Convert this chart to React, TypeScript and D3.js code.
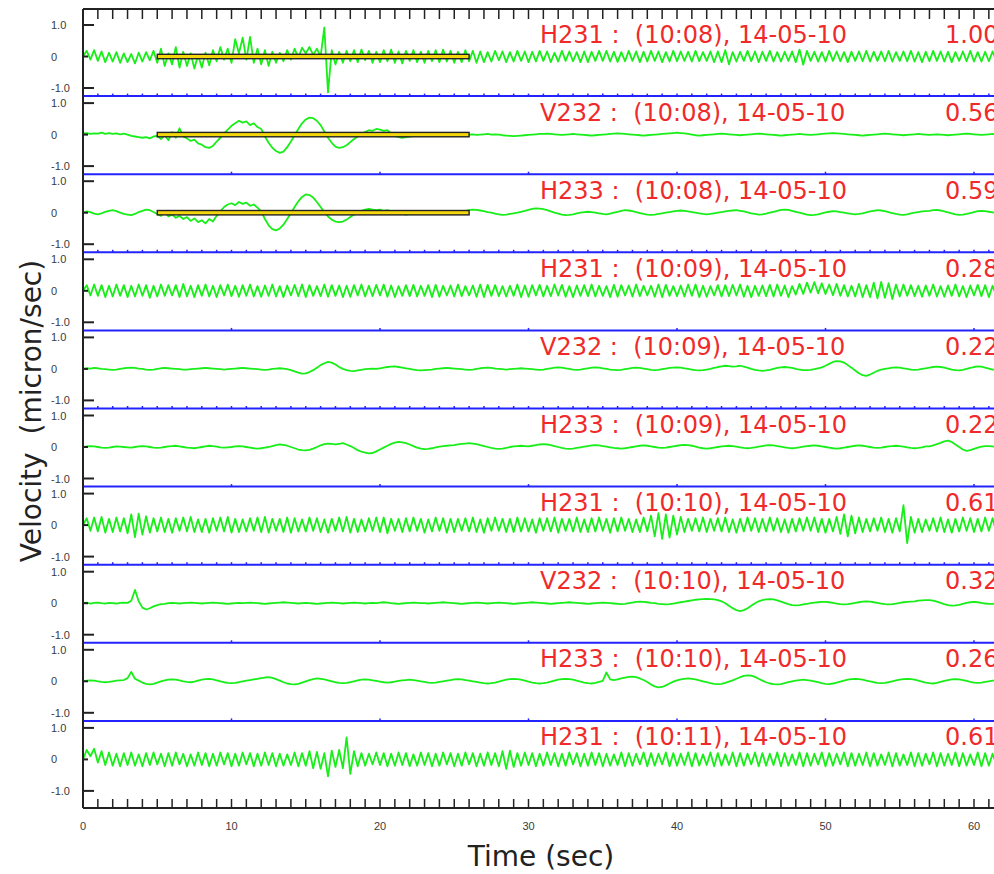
import React from "react";
import * as d3 from "d3";

// ---------- data ----------
const DT = 0.25; // seconds per sample
const channelNames = ["H231", "V232", "H233", "H231", "V232", "H233", "H231", "V232", "H233", "H231"];
const recordTimes = ["10:08", "10:08", "10:08", "10:09", "10:09", "10:09", "10:10", "10:10", "10:10", "10:11"];
const recordDate = "14-05-10";
const peakValues = ["1.00", "0.56", "0.59", "0.28", "0.22", "0.22", "0.61", "0.32", "0.26", "0.61"];
const xTickValues = [0, 10, 20, 30, 40, 50, 60];
const yTickValues = [1, 0, -1];
const yTickLabels = ["1.0", "0", "-1.0"];
const windowPanels = [0, 1, 2];
const windowStart = 5;
const windowEnd = 26;
const separatorTickStep = [1, 10, 1, 10, 1, 10, 1, 10, 10];

// velocity samples, hundredths of micron/sec, 4 per second
const trace1 = [
  0, 18, -10, 20, -14, 16, -18, 12, -16, 14, -20, 10, -18, 8, -22, 12, -16, 14, -12, 18,
  -20, 25, -30, 10, -25, 30, -35, 15, -30, 10, -38, 5, -35, 12, -28, 20, -15, 30, -10, 25,
  -20, 55, 10, 60, -10, 62, -20, 25, -25, 20, -30, 15, -20, 12, -15, 20, -10, 25, -5, 28,
  10, 30, 5, 25, 0, 92, -114, 20, -25, 15, -20, 18, -15, 20, -18, 22, -12, 18, -20, 15,
  -18, 20, -15, 22, -20, 16, -22, 18, -14, 20, -18, 15, -20, 18, -15, 20, -18, 22, -16, 18,
  -20, 15, -18, 20, -15, 18, -20, 16, -18, 14, -16, 18, -12, 16, -18, 14, -16, 18, -14, 16,
  -18, 15, -16, 18, -14, 16, -18, 12, -16, 18, -14, 16, -15, 14, -18, 16, -18, 15, -14, 18,
  -14, 18, -16, 15, -17, 14, -15, 18, -14, 16, -18, 15, -16, 18, -14, 16, -18, 14, -16, 18,
  -15, 16, -14, 15, -16, 18, -15, 14, -14, 16, -18, 16, -18, 20, -25, 14, -16, 15, -14, 18,
  -15, 16, -18, 15, -14, 18, -16, 14, -16, 15, -14, 16, -18, 22, -26, 18, -14, 15, -16, 14,
  -16, 18, -14, 16, -15, 14, -18, 15, -14, 16, -15, 18, -16, 15, -14, 16, -15, 18, -16, 14,
  -14, 16, -15, 18, -16, 14, -18, 15, -15, 18, -14, 16, -16, 15, -18, 14, -14, 16, -15, 18,
  -16, 14, -16, 15, -15, 16, -14, 16,
];
const trace2 = [
  3, 5, 2, 4, 3, 6, 2, 5, 2, 4, 1, 3, 0, -4, -6, -8, -10, -8, -12, -6,
  -4, -14, -2, -18, 8, -10, 20, -6, -12, -20, -16, -28, -32, -40, -42, -36, -22, -10, 4, 16,
  28, 36, 44, 38, 42, 30, 36, 24, 18, -6, -26, -42, -52, -58, -54, -40, -22, -2, 18, 36,
  48, 54, 52, 44, 30, 10, -10, -26, -38, -42, -40, -34, -24, -14, -6, 2, 8, 14, 12, 18,
  16, 12, 14, 4, -4, -8, -10, -8, -6, -4, -2, 0, 2, 0, -2, 0, 1, -1, 2, 0,
  -1, 1, 0, 2, 0, 1, -1, 0, 1, 2, 0, 1, 0, -2, -3, -4, -5, -4, -3, -2,
  -1, 0, 1, 2, 2, 3, 2, 1, 0, -1, 0, 1, 2, 1, 0, -1, -2, -3, -2, -1,
  0, 1, 2, 3, 4, 3, 2, 1, 0, -1, -2, -3, -2, -1, 0, 1, 2, 3, 4, 5,
  6, 5, 4, 2, 0, -2, -3, -2, -1, 0, 1, 2, 3, 2, 1, 0, -1, -2, -1, 0,
  1, 2, 3, 2, 1, 0, -1, -2, -3, -2, -1, 0, 1, 2, 1, 0, -1, 0, 1, 2,
  3, 4, 5, 4, 3, 2, 1, 0, -1, -2, -3, -2, -1, 0, 1, 2, 3, 2, 1, 0,
  -1, -2, -1, 0, 1, 2, 1, 0, -1, 0, 1, 0, -1, -2, -1, 0, 1, 2, 3, 2,
  1, 0, -1, 0, 1, 2, 1, 0,
];
const trace3 = [
  0, 4, 2, -3, -5, -2, 3, 6, 8, 5, 0, -4, -6, -8, -4, 2, 6, 10, 8, 2,
  -4, -10, 4, -12, -6, -16, -10, -20, -14, -26, -18, -30, -24, -34, -20, -28, -10, 4, 18, 26,
  30, 24, 34, 28, 32, 22, 26, 16, 4, -20, -40, -52, -56, -50, -38, -20, -2, 18, 36, 50,
  58, 56, 48, 34, 18, 2, -12, -22, -28, -30, -28, -22, -14, -6, 0, 6, 10, 12, 10, 8,
  10, 6, 8, 4, 2, -2, -4, -6, -4, -2, 0, -2, 0, 2, -1, 1, 2, 0, -2, 0,
  1, 3, 4, 6, 8, 10, 9, 7, 5, 2, 0, -3, -5, -7, -6, -4, -2, 0, 3, 6,
  9, 12, 14, 13, 11, 8, 4, 0, -3, -6, -8, -7, -5, -2, 0, 2, 3, 2, 0, -2,
  -4, -5, -3, 0, 3, 6, 8, 7, 5, 2, -1, -4, -6, -7, -6, -4, -2, 0, 2, 4,
  6, 7, 6, 4, 2, 0, -2, -4, -5, -4, -2, 0, 2, 4, 6, 7, 8, 6, 4, 1,
  -2, -4, -6, -5, -3, 0, 3, 6, 9, 10, 9, 6, 3, 0, -3, -6, -8, -7, -5, -2,
  1, 3, 5, 4, 2, 0, -2, -4, -5, -4, -2, 1, 4, 6, 8, 7, 5, 2, -1, -4,
  -6, -7, -5, -2, 0, 2, 4, 5, 6, 8, 9, 7, 4, 1, -2, -5, -7, -6, -4, -1,
  2, 5, 6, 5, 3, 1, -1, -2,
];
const trace4 = [
  0, 18, -15, 20, -16, 18, -20, 16, -18, 20, -16, 18, -20, 16, -18, 20, -16, 18, -22, 16,
  -18, 20, -16, 18, -15, 18, -20, 22, -18, 16, -20, 18, -16, 20, -18, 16, -20, 18, -15, 20,
  -17, 16, -19, 18, -16, 20, -18, 15, -19, 17, -16, 20, -18, 15, -20, 17, -15, 19, -17, 20,
  -20, 18, -16, 15, -17, 20, -19, 18, -16, 17, -20, 16, -19, 18, -15, 20, -18, 16, -17, 19,
  -15, 20, -19, 17, -20, 15, -16, 18, -17, 19, -18, 16, -16, 18, -20, 19, -19, 16, -15, 17,
  -18, 20, -17, 15, -15, 17, -19, 20, -20, 19, -16, 18, -17, 15, -18, 16, -16, 20, -20, 17,
  -19, 18, -15, 19, -18, 16, -17, 20, -15, 19, -19, 15, -20, 17, -16, 18, -17, 20, -18, 16,
  -16, 15, -20, 19, -19, 18, -15, 17, -18, 20, -17, 16, -15, 16, -19, 20, -20, 19, -16, 15,
  -17, 17, -18, 20, -16, 20, -20, 16, -19, 15, -15, 18, -18, 18, -17, 19, -15, 20, -19, 16,
  -20, 16, -16, 17, -17, 19, -18, 20, -16, 17, -20, 15, -12, 22, -10, 26, -6, 28, -8, 24,
  -10, 20, -14, 22, -16, 18, -18, 16, -18, 22, -20, 18, -20, 26, -24, 28, -22, 24, -26, 20,
  -18, 20, -16, 18, -17, 16, -19, 17, -16, 20, -18, 15, -19, 17, -16, 20, -18, 15, -20, 17,
  -15, 19, -17, 18, -20, 16, -16, 19,
];
const trace5 = [
  0, 2, 1, 3, 2, 0, -1, -2, -3, -2, 0, 2, 3, 4, 3, 1, 0, -2, -3, -2,
  0, 2, 3, 2, 1, 0, -1, -2, -2, -1, 0, 1, 2, 3, 2, 1, 0, -1, -2, -1,
  0, 1, 2, 3, 2, 1, 0, -1, -2, -3, -2, 0, 1, 2, 1, -1, -4, -8, -12, -15,
  -14, -10, -4, 4, 12, 18, 22, 20, 14, 6, 0, -4, -6, -7, -5, -3, -1, 0, 1, 0,
  2, 4, 6, 7, 8, 6, 4, 2, 0, -2, -4, -5, -4, -3, -2, 0, 1, 2, 3, 2,
  1, 0, -1, -2, -3, -2, 0, 2, 3, 4, 3, 1, 0, -1, -2, -1, 0, 1, 2, 1,
  0, -1, -2, -3, -2, 0, 2, 4, 5, 4, 2, 0, -2, -3, -2, 0, 2, 4, 5, 4,
  2, 0, -2, -3, -4, -3, -1, 1, 3, 4, 3, 1, -1, -3, -4, -3, -1, 1, 3, 4,
  5, 4, 2, 0, -2, -4, -5, -4, -2, 0, 3, 6, 8, 10, 9, 7, 8, 10, 7, 4,
  0, -3, -5, -6, -5, -3, 0, 3, 5, 6, 5, 3, 0, -2, -4, -4, -3, -1, 2, 5,
  10, 16, 22, 25, 24, 20, 12, 4, -5, -14, -20, -22, -18, -12, -6, -2, 0, 2, 4, 5,
  4, 2, 0, -2, -3, -2, 0, 2, 4, 6, 7, 6, 4, 1, -2, -4, -5, -3, 0, 3,
  6, 8, 7, 4, 1, -2, -3, -2,
];
const trace6 = [
  0, 2, 3, 2, 0, -2, -3, -2, 0, 2, 1, 0, -1, -2, 0, 2, 3, 2, 0, -2,
  -3, -2, 0, 2, 3, 4, 2, 0, -2, -3, -4, -2, 0, 2, 4, 3, 1, -1, -2, -1,
  0, 2, 3, 2, 0, -2, -4, -5, -4, -2, 0, 3, 6, 8, 7, 4, 0, -4, -8, -10,
  -11, -9, -5, 0, 5, 9, 11, 10, 8, 10, 12, 8, 3, -3, -10, -15, -18, -20, -19, -14,
  -8, -2, 4, 10, 14, 16, 15, 12, 8, 3, -2, -5, -7, -6, -4, -1, 1, 3, 4, 5,
  6, 8, 10, 11, 12, 11, 9, 6, 3, 0, -3, -5, -6, -5, -3, 0, 2, 3, 4, 3,
  2, 4, 6, 8, 9, 8, 6, 3, 0, -3, -5, -6, -5, -3, -1, 1, 3, 5, 6, 5,
  3, 1, -1, -3, -4, -5, -4, -2, 0, 2, 4, 5, 4, 2, 0, -2, -3, -2, 0, 2,
  4, 6, 7, 6, 4, 1, -2, -4, -5, -4, -2, 0, 2, 3, 4, 3, 1, -1, -3, -4,
  -3, -1, 1, 3, 5, 6, 5, 3, 1, -1, -3, -4, -3, -1, 1, 3, 4, 5, 4, 2,
  0, -2, -4, -5, -4, -2, 0, 2, 4, 5, 4, 2, 0, -2, -3, -2, 0, 2, 3, 4,
  3, 1, -1, -3, -4, -3, -1, 2, 2, 5, 9, 13, 18, 20, 16, 8, 0, -8, -12, -10,
  -6, -2, 1, 3, 3, 2, 0, -1,
];
const trace7 = [
  0, 22, -18, 24, -20, 26, -24, 20, -22, 24, -20, 22, -26, 34, -38, 36, -30, 28, -24, 22,
  -20, 24, -22, 20, -24, 22, -18, 24, -20, 26, -22, 18, -22, 20, -24, 22, -18, 24, -20, 26,
  -24, 20, -22, 18, -20, 22, -18, 24, -22, 26, -24, 20, -18, 20, -22, 24, -24, 22, -20, 18,
  -20, 24, -18, 22, -22, 18, -24, 20, -18, 24, -20, 26, -24, 20, -22, 18, -20, 22, -18, 24,
  -22, 24, -26, 20, -18, 20, -22, 22, -20, 24, -18, 20, -24, 18, -20, 24, -18, 22, -24, 20,
  -22, 20, -18, 22, -20, 24, -22, 18, -24, 22, -18, 24, -18, 20, -22, 20, -22, 24, -20, 22,
  -20, 18, -24, 22, -18, 22, -20, 24, -24, 20, -18, 20, -20, 24, -22, 18, -22, 22, -20, 24,
  -18, 20, -24, 22, -20, 24, -18, 20, -22, 18, -22, 24, -20, 30, -36, 38, -44, 34, -40, 30,
  -30, 26, -22, 20, -18, 22, -20, 24, -22, 20, -18, 22, -20, 24, -22, 18, -24, 20, -20, 24,
  -18, 22, -22, 20, -20, 24, -18, 22, -22, 18, -24, 20, -20, 22, -18, 24, -18, 24, -22, 20,
  -24, 20, -20, 26, -28, 34, -36, 30, -26, 24, -22, 20, -20, 22, -18, 24, -22, 20, -24, 22,
  -20, 63, -57, 26, -24, 20, -22, 18, -18, 22, -20, 24, -22, 18, -24, 20, -20, 24, -18, 22,
  -22, 20, -20, 24, -18, 22, -22, 20,
];
const trace8 = [
  0, 2, -1, 1, 2, 0, -1, 1, 0, -1, 1, 2, 1, 8, 42, 6, -14, -20, -16, -10,
  -6, -3, -2, 0, 1, 0, -1, 0, 1, 2, 1, 0, -1, 0, 1, 2, 1, 0, -1, -2,
  -1, 0, 1, 0, 1, 2, 1, 0, -1, -2, -1, 0, 1, 2, 3, 2, 1, 0, -1, 0,
  1, 0, -1, -2, -1, 0, 1, 2, 1, 0, -1, 0, 1, 2, 1, 0, -1, 0, 1, 0,
  2, 3, 2, 0, -1, -2, -1, 0, 1, 2, 1, 0, 0, -1, 0, 1, 2, 3, 2, 1,
  0, -1, -2, -1, 0, 1, 2, 1, 0, -1, 0, 1, 2, 1, 0, -1, -2, -1, 0, 1,
  2, 3, 2, 1, 0, -1, -2, -1, 0, 1, 2, 3, 2, 1, 0, -1, -2, -1, 0, 1,
  2, 1, 0, -1, -2, -3, -2, 0, 2, 4, 5, 4, 3, 1, 0, -2, -3, -4, -3, -1,
  1, 3, 5, 7, 9, 11, 12, 13, 14, 13, 12, 10, 6, 0, -8, -16, -22, -25, -22, -16,
  -8, 0, 6, 10, 12, 13, 12, 9, 5, 1, -3, -6, -7, -6, -4, -2, 0, 2, 3, 4,
  4, 3, 1, -1, -3, -4, -3, -1, 1, 3, 5, 6, 5, 3, 1, -1, -3, -4, -3, -1,
  1, 3, 4, 5, 6, 8, 9, 10, 10, 8, 5, 1, -3, -6, -8, -7, -5, -2, 1, 3,
  4, 3, 1, -1, -2, -2, -1, 0,
];
const trace9 = [
  0, 2, 3, 2, 0, -2, -3, -2, 0, 2, 3, 4, 10, 30, 8, 2, -4, -8, -10, -8,
  -4, 0, 3, 5, 6, 5, 3, 0, -2, -3, -1, 2, 5, 7, 8, 6, 3, 0, -3, -5,
  -6, -5, -3, 0, 2, 4, 6, 8, 10, 12, 13, 11, 7, 2, -3, -7, -9, -10, -8, -4,
  0, 4, 7, 9, 8, 6, 3, 0, -3, -5, -6, -5, -3, 0, 3, 5, 6, 5, 3, 1,
  -1, -3, -4, -3, -1, 1, 3, 4, 5, 4, 2, 0, -2, -4, -5, -4, -2, 0, 2, 4,
  6, 7, 6, 4, 2, 0, -2, -4, -6, -7, -6, -4, -1, 2, 5, 7, 8, 7, 5, 2,
  -1, -4, -6, -7, -6, -4, -1, 2, 5, 7, 8, 7, 5, 2, -1, -4, -6, -7, -5, -2,
  1, 28, 6, 4, 6, 9, 12, 14, 15, 13, 9, 4, -2, -10, -16, -19, -18, -13, -7, -1,
  3, 6, 8, 9, 8, 6, 3, 0, -3, -6, -8, -9, -8, -5, -1, 3, 8, 13, 17, 19,
  18, 14, 8, 2, -3, -7, -9, -10, -9, -6, -3, 0, 2, 4, 5, 4, 2, 0, -3, -6,
  -8, -9, -7, -4, -1, 2, 5, 7, 8, 7, 5, 2, 0, -3, -5, -6, -5, -3, 0, 3,
  5, 7, 8, 7, 5, 2, -1, -4, -6, -7, -5, -2, 1, 4, 6, 7, 6, 4, 1, -2,
  -4, -5, -4, -2, 0, 2, 3, 3,
];
const trace10 = [
  0, 30, 10, 34, -10, 26, -18, 22, -20, 18, -22, 20, -18, 22, -20, 16, -22, 20, -18, 22,
  -16, 18, -22, 20, -20, 22, -16, 18, -22, 16, -20, 22, -18, 20, -22, 18, -20, 22, -16, 20,
  -22, 18, -20, 22, -16, 20, -22, 18, -20, 22, -18, 20, -22, 18, -20, 16, -18, 22, -22, 20,
  -20, 26, -28, 24, -30, 20, -54, 28, -24, 30, -28, 70, -46, 26, -22, 20, -20, 18, -16, 22,
  -18, 20, -22, 18, -20, 22, -18, 20, -22, 16, -20, 22, -18, 20, -22, 18, -20, 22, -16, 20,
  -22, 18, -20, 22, -16, 20, -22, 18, -20, 22, -18, 20, -22, 26, -30, 28, -24, 20, -20, 22,
  -18, 20, -22, 18, -20, 22, -18, 20, -22, 18, -20, 22, -16, 20, -22, 18, -20, 22, -18, 20,
  -22, 18, -20, 16, -18, 22, -22, 20, -20, 18, -16, 22, -22, 20, -20, 18, -16, 22, -22, 20,
  -20, 18, -18, 22, -22, 20, -20, 16, -18, 22, -22, 20, -20, 16, -18, 22, -22, 20, -20, 18,
  -16, 22, -22, 20, -20, 18, -18, 22, -22, 20, -20, 16, -18, 22, -22, 20, -20, 18, -16, 22,
  -22, 20, -20, 18, -16, 22, -22, 20, -20, 18, -18, 22, -22, 20, -20, 16, -18, 22, -22, 20,
  -20, 16, -18, 22, -22, 20, -20, 18, -16, 22, -22, 20, -20, 18, -18, 22, -22, 20, -20, 16,
  -18, 22, -22, 20, -20, 18, -16, 22,
];
const traces = [trace1, trace2, trace3, trace4, trace5, trace6, trace7, trace8, trace9, trace10];

// ---------- layout ----------
const W = 994;
const H = 874;
const PLOT_LEFT = 83;
const FRAME_TOP = 9;
const FRAME_BOTTOM = 808;
const STACK_TOP = 18;
const PANEL_H = 78.1;
const HALF_SPAN = 31.5; // px for 1.0 micron/sec

const TRACE_GREEN = "#18ee18";
const AXIS = "#222";
const BLUE = "#2323ff";
const RED = "#f02a2a";
const LABEL_FONT = "DejaVu Sans, Verdana, sans-serif";

export default function App() {
  const x = d3.scaleLinear().domain([0, 60]).range([PLOT_LEFT, 974]);
  const secTicks = d3.range(1, 62);
  const panels = traces.map((tr, i) => {
    const zero = STACK_TOP + PANEL_H * i + 38.5;
    const y = d3.scaleLinear().domain([-1, 1]).range([zero + HALF_SPAN, zero - HALF_SPAN]);
    const line = d3
      .line<number>()
      .x((_, k) => x(k * DT))
      .y((v) => y(v / 100));
    return { i, zero, y, path: line(tr) || "" };
  });

  return (
    <svg
      width={W}
      height={H}
      style={{ position: "absolute", left: 0, top: 0, background: "#fff" }}
    >
      <defs>
        <clipPath id="plotClip">
          <rect x={PLOT_LEFT + 1} y={FRAME_TOP} width={W - PLOT_LEFT} height={FRAME_BOTTOM - FRAME_TOP} />
        </clipPath>
      </defs>

      {/* separators */}
      {separatorTickStep.map((step, k) => {
        const yy = STACK_TOP + PANEL_H * (k + 1);
        const ticks = secTicks.filter((s) => s % step === 0);
        return (
          <g key={"sep" + k}>
            <line x1={PLOT_LEFT} x2={W} y1={yy} y2={yy} stroke={BLUE} strokeWidth={2} />
            {ticks.map((s) => (
              <line key={s} x1={x(s)} x2={x(s)} y1={yy - 2.5} y2={yy} stroke={BLUE} strokeWidth={1.5} />
            ))}
          </g>
        );
      })}

      {/* traces */}
      <g clipPath="url(#plotClip)">
        {panels.map((p) => (
          <path key={"tr" + p.i} d={p.path} fill="none" stroke={TRACE_GREEN} strokeWidth={1.8} strokeLinejoin="round" />
        ))}
      </g>

      {/* analysis windows */}
      {windowPanels.map((pi) => {
        const p = panels[pi];
        return (
          <rect
            key={"win" + pi}
            x={x(windowStart)}
            y={p.y(0) - 2.2}
            width={x(windowEnd) - x(windowStart)}
            height={4.4}
            fill="#f3d60c"
            stroke="#222"
            strokeWidth={1.4}
          />
        );
      })}

      {/* y ticks & labels */}
      {panels.map((p) => (
        <g key={"yt" + p.i}>
          {yTickValues.map((v, k) => (
            <g key={k}>
              <line
                x1={PLOT_LEFT}
                x2={PLOT_LEFT + (v === 0 ? 5 : 11)}
                y1={p.y(v)}
                y2={p.y(v)}
                stroke={AXIS}
                strokeWidth={2}
              />
              <text
                x={51}
                y={p.y(v) + 4}
                fontFamily="Liberation Sans, Arial, sans-serif"
                fontSize={11}
                fill="#3a3a3a"
              >
                {yTickLabels[k]}
              </text>
            </g>
          ))}
        </g>
      ))}

      {/* panel labels */}
      {panels.map((p) => {
        const top = STACK_TOP + PANEL_H * p.i;
        return (
          <g key={"lab" + p.i} fontFamily={LABEL_FONT} fontSize={24} fill={RED}>
            <text x={540} y={top + 24.5} style={{ whiteSpace: "pre" }}>
              {`${channelNames[p.i]} :  (${recordTimes[p.i]}), ${recordDate}`}
            </text>
            <text x={945} y={top + 24.5}>
              {peakValues[p.i]}
            </text>
          </g>
        );
      })}

      {/* frame */}
      <line x1={PLOT_LEFT} x2={PLOT_LEFT} y1={FRAME_TOP} y2={FRAME_BOTTOM} stroke={AXIS} strokeWidth={2} />
      <line x1={PLOT_LEFT} x2={W} y1={FRAME_TOP} y2={FRAME_TOP} stroke={AXIS} strokeWidth={2} />
      <line x1={PLOT_LEFT} x2={W} y1={FRAME_BOTTOM} y2={FRAME_BOTTOM} stroke={AXIS} strokeWidth={2} />
      {secTicks.map((s) => (
        <g key={"st" + s}>
          <line x1={x(s)} x2={x(s)} y1={FRAME_TOP} y2={FRAME_TOP + 10} stroke={AXIS} strokeWidth={1.5} />
          <line x1={x(s)} x2={x(s)} y1={FRAME_BOTTOM} y2={FRAME_BOTTOM - 9} stroke={AXIS} strokeWidth={1.5} />
        </g>
      ))}

      {/* x tick labels */}
      {xTickValues.map((v) => (
        <text
          key={"xl" + v}
          x={x(v)}
          y={830}
          textAnchor="middle"
          fontFamily="Liberation Sans, Arial, sans-serif"
          fontSize={11}
          fill="#3a3a3a"
        >
          {v}
        </text>
      ))}

      {/* axis titles */}
      <text x={541} y={866} textAnchor="middle" fontFamily={LABEL_FONT} fontSize={28} fill="#222">
        Time (sec)
      </text>
      <text
        transform="translate(41,411) rotate(-90)"
        textAnchor="middle"
        fontFamily={LABEL_FONT}
        fontSize={28}
        fill="#222"
        style={{ whiteSpace: "pre" }}
      >
        {"Velocity  (micron/sec)"}
      </text>
    </svg>
  );
}
